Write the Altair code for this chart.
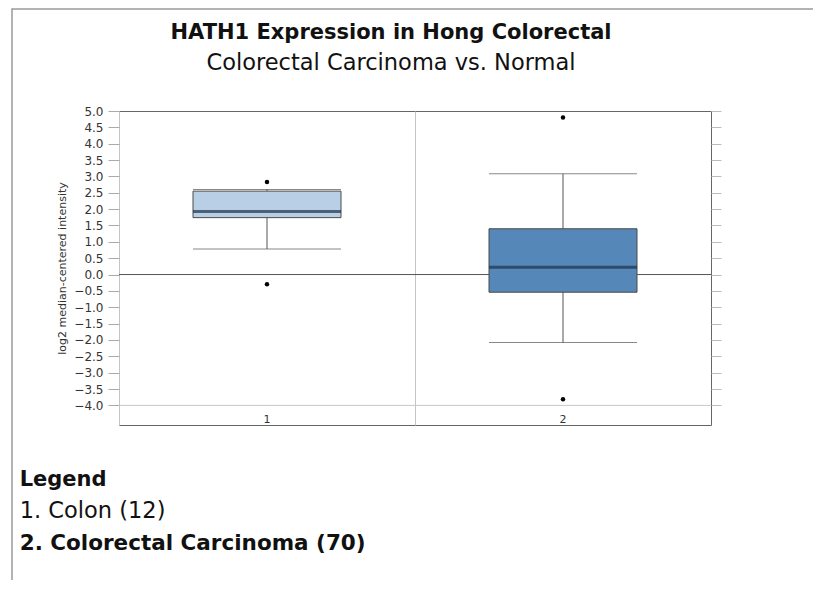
import altair as alt
import pandas as pd

# ---- data ----
groups = ["1", "2"]
whisker_low = [0.78, -2.08]
q1 = [1.74, -0.54]
median = [1.93, 0.22]
q3 = [2.55, 1.40]
whisker_high = [2.60, 3.08]
box_colors = ["#b9cfe5", "#5587b9"]

outlier_group = ["1", "1", "2", "2"]
outlier_value = [2.83, -0.30, 4.80, -3.81]

y_ticks = [5.0, 4.5, 4.0, 3.5, 3.0, 2.5, 2.0, 1.5, 1.0, 0.5, 0.0,
           -0.5, -1.0, -1.5, -2.0, -2.5, -3.0, -3.5, -4.0]

title_text = "HATH1 Expression in Hong Colorectal"
subtitle_text = "Colorectal Carcinoma vs. Normal"
legend_head = "Legend"
legend_lines = ["1. Colon (12)", "2. Colorectal Carcinoma (70)"]
y_title = "log2 median-centered intensity"

FONT = "DejaVu Sans"

box_df = pd.DataFrame({
    "group": groups, "lo": whisker_low, "q1": q1, "med": median,
    "q3": q3, "hi": whisker_high,
})
out_df = pd.DataFrame({"group": outlier_group, "value": outlier_value})

yscale = alt.Scale(domain=[-4.6, 5.0], nice=False, zero=False)
x_enc = alt.X(
    "group:N",
    scale=alt.Scale(domain=groups, paddingInner=0, paddingOuter=0),
    axis=alt.Axis(title=None, domain=False, ticks=False, tickSize=0,
                  labelPadding=-12, labelAngle=0, labelFont=FONT,
                  labelFontSize=11, labelColor="#333",
                  grid=True, bandPosition=0, gridColor="#c4c4c4"),
)

base = alt.Chart(box_df)

frame = alt.Chart(pd.DataFrame({"k": [0]})).mark_rect(
    fillOpacity=0, stroke="#9a9a9a", strokeWidth=1.5
).encode(x=alt.value(-107), x2=alt.value(800), y=alt.value(-102), y2=alt.value(600))

ref_m4 = alt.Chart(pd.DataFrame({"k": [0]})).mark_rule(color="#c8c8c8").encode(
    y=alt.YDatum(-4.0, scale=yscale, axis=None))
ref_0 = alt.Chart(pd.DataFrame({"k": [0]})).mark_rule(color="#555").encode(
    y=alt.YDatum(0.0, scale=yscale, axis=None))

stem_lo = base.mark_rule(color="#555").encode(
    x=x_enc, y=alt.Y("lo:Q", scale=yscale, axis=None), y2="q1:Q")
stem_hi = base.mark_rule(color="#555").encode(
    x=x_enc, y=alt.Y("q3:Q", scale=yscale, axis=None), y2="hi:Q")
cap_lo = base.mark_tick(orient="horizontal", size=148, thickness=1, color="#555").encode(
    x=x_enc, y=alt.Y("lo:Q", scale=yscale, axis=None))
cap_hi = base.mark_tick(orient="horizontal", size=148, thickness=1, color="#555").encode(
    x=x_enc, y=alt.Y("hi:Q", scale=yscale, axis=None))

box = base.mark_bar(width=alt.RelativeBandSize(0.5), stroke="#4a4a4a", strokeWidth=1).encode(
    x=x_enc,
    y=alt.Y("q1:Q", scale=yscale, axis=alt.Axis(
        orient="left", values=y_ticks, format=".1f", title=y_title,
        labelFont=FONT, labelFontSize=12, labelColor="#333",
        tickColor="#aaa", tickSize=11, labelPadding=5, domain=False, grid=False,
        titleFont=FONT, titleFontSize=11, titleFontWeight="normal",
        titleColor="#333", titlePadding=6)),
    y2="q3:Q",
    color=alt.Color("group:N", scale=alt.Scale(domain=groups, range=box_colors), legend=None),
)
med = base.mark_tick(orient="horizontal", size=148, thickness=3, color="#1e3248").encode(
    x=x_enc, y=alt.Y("med:Q", scale=yscale, axis=None))

pts = alt.Chart(out_df).mark_circle(size=20, color="black", opacity=1).encode(
    x=x_enc,
    y=alt.Y("value:Q", scale=yscale, axis=alt.Axis(
        orient="right", values=y_ticks, labels=False, title=None,
        tickColor="#bbb", tickSize=10, domain=False, grid=False)),
)


def txt(s, x, y, size, weight, align):
    return alt.Chart(pd.DataFrame({"t": [s]})).mark_text(
        font=FONT, fontSize=size, fontWeight=weight, align=align,
        baseline="alphabetic", color="#111"
    ).encode(x=alt.value(x), y=alt.value(y), text="t:N")


texts = [
    txt(title_text, 272, -72.4, 21, "bold", "center"),
    txt(subtitle_text, 272, -41.5, 22.5, "normal", "center"),
    txt(legend_head, -99.3, 374.8, 21, "bold", "left"),
    txt(legend_lines[0], -99.3, 406.8, 22.5, "normal", "left"),
    txt(legend_lines[1], -99.3, 439.3, 21.5, "bold", "left"),
]

chart = alt.layer(
    frame, ref_m4, ref_0, stem_lo, stem_hi, cap_lo, cap_hi, box, med, pts, *texts
).resolve_axis(y="independent").properties(
    width=592, height=314,
    padding={"left": 111, "top": 103, "right": 102, "bottom": 155},
    autosize=alt.AutoSizeParams(type="none"),
    background="white",
).configure_view(stroke="#666", strokeWidth=1)

chart.save("out.html", embed_options={"renderer": "svg", "actions": False})
